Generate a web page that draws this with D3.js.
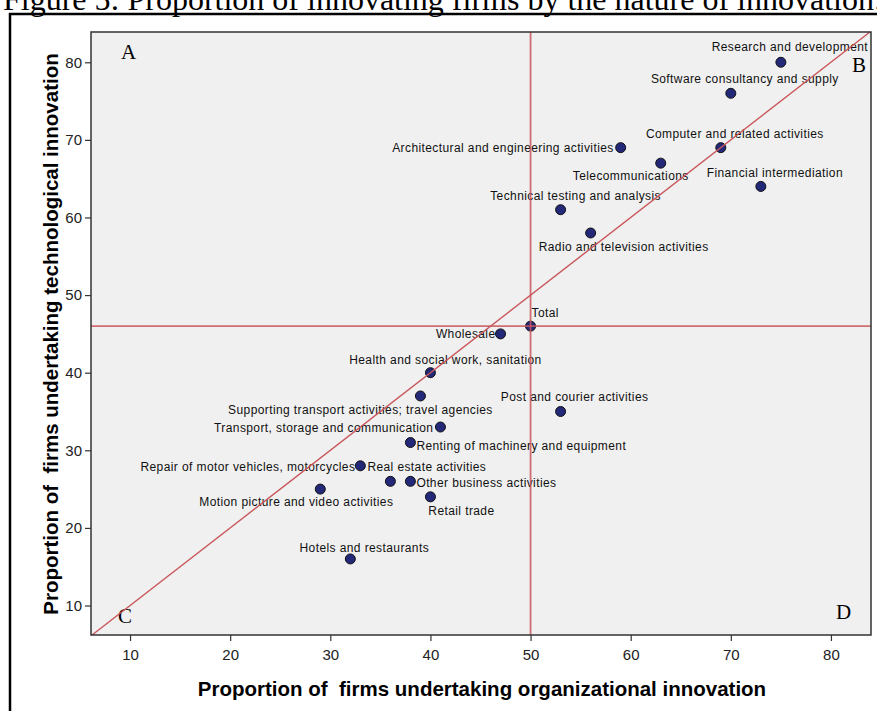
<!DOCTYPE html>
<html>
<head>
<meta charset="utf-8">
<script src="https://cdn.jsdelivr.net/npm/d3@7"></script>
<style>
  body { margin: 0; background: #fff; }
  svg { display: block; }
</style>
</head>
<body>
<svg width="877" height="711"></svg>
<script>
// sectors and their shares (%) of firms with organizational / technological innovation
let sectors = [
  "Research and development", "Software consultancy and supply", "Computer and related activities",
  "Architectural and engineering activities", "Telecommunications", "Financial intermediation",
  "Technical testing and analysis", "Radio and television activities", "Total", "Wholesale",
  "Health and social work, sanitation", "Supporting transport activities; travel agencies",
  "Post and courier activities", "Transport, storage and communication",
  "Renting of machinery and equipment", "Repair of motor vehicles, motorcycles",
  "Real estate activities", "Other business activities", "Motion picture and video activities",
  "Retail trade", "Hotels and restaurants"
];
let orgShare  = [75, 70, 69, 59, 63, 73, 53, 56, 50, 47, 40, 39, 53, 41, 38, 33, 36, 38, 29, 40, 32];
let techShare = [80, 76, 69, 69, 67, 64, 61, 58, 46, 45, 40, 37, 35, 33, 31, 28, 26, 26, 25, 24, 16];

let xTicks = [10, 20, 30, 40, 50, 60, 70, 80];
let yTicks = [10, 20, 30, 40, 50, 60, 70, 80];

// reference lines: total for organizational / technological innovation
let refX = 50;
let refY = 46;

// label placement (anchor, offset from the dot in px)
let labAnchor = ["middle", "middle", "middle", "end", "middle", "middle", "middle", "middle", "start", "end",
                 "middle", "middle", "middle", "end", "start", "end", "start", "start", "middle", "middle", "middle"];
let labDx = [9, 14, 14, -7, -30, 14, 15, 33, 1, -5, 15, -60, 14, -7, 6, -5, -23, 6, -24, 31, 14];
let labDy = [-11, -10, -10, 4, 17, -9, -10, 18, -9, 4, -9, 18, -10, 5, 7, 5, -10, 6, 17, 18, -7];

let svg = d3.select("svg");

let pxL = 91, pxR = 871, pxT = 32, pxB = 635;

let scX = d3.scaleLinear().domain([6.1, 84.0]).range([pxL, pxR]);
let scY = d3.scaleLinear().domain([6.2, 83.9]).range([pxB, pxT]);

// title, cut by the top of the page
svg.append("text")
   .attr("x", 3).attr("y", 10)
   .attr("font-family", "Liberation Serif, Times New Roman, serif")
   .attr("font-size", 32)
   .attr("fill", "#000")
   .text("Figure 5: Proportion of innovating firms by the nature of innovation:");

// outer frame
svg.append("path")
   .attr("d", "M10,720 L10,14 L890,14")
   .attr("fill", "none").attr("stroke", "#000").attr("stroke-width", 2.5);

// plot area
svg.append("rect")
   .attr("x", pxL).attr("y", pxT)
   .attr("width", pxR - pxL).attr("height", pxB - pxT)
   .attr("fill", "#f0f0f0");

svg.append("clipPath").attr("id", "plotclip")
   .append("rect")
   .attr("x", pxL).attr("y", pxT)
   .attr("width", pxR - pxL).attr("height", pxB - pxT);

// axes
let xAxis = d3.axisBottom(scX).tickValues(xTicks).tickSize(6).tickSizeOuter(0);
let yAxis = d3.axisLeft(scY).tickValues(yTicks).tickSize(6).tickSizeOuter(0);

let gx = svg.append("g").attr("transform", `translate(0,${pxB})`).call(xAxis);
let gy = svg.append("g").attr("transform", `translate(${pxL},0)`).call(yAxis);
gx.select(".domain").remove();
gy.select(".domain").remove();
[gx, gy].forEach(g => {
  g.selectAll(".tick line").attr("stroke", "#333").attr("stroke-width", 1.2);
  g.selectAll(".tick text")
   .attr("font-family", "Liberation Sans, Arial, sans-serif")
   .attr("font-size", 15).attr("fill", "#222");
});
gx.selectAll(".tick text").attr("dy", "1em").attr("y", 10);
gy.selectAll(".tick text").attr("x", -9);

// axis titles
svg.append("text")
   .attr("x", 482).attr("y", 696)
   .attr("text-anchor", "middle")
   .attr("font-family", "Liberation Sans, Arial, sans-serif")
   .attr("font-size", 20.5).attr("font-weight", "bold")
   .attr("xml:space", "preserve")
   .text("Proportion of  firms undertaking organizational innovation");

svg.append("text")
   .attr("transform", "translate(58,334) rotate(-90)")
   .attr("text-anchor", "middle")
   .attr("font-family", "Liberation Sans, Arial, sans-serif")
   .attr("font-size", 20.5).attr("font-weight", "bold")
   .attr("xml:space", "preserve")
   .text("Proportion of  firms undertaking technological innovation");

// quadrant letters
let corners = [
  {t: "A", x: scX(6.1) + 30, y: scY(83.9) + 27},
  {t: "B", x: scX(84.0) - 19, y: scY(83.9) + 40},
  {t: "C", x: scX(6.1) + 27, y: scY(6.2) - 12},
  {t: "D", x: scX(84.0) - 35, y: scY(6.2) - 16}
];
svg.append("g").selectAll("text")
   .data(corners).enter()
   .append("text")
   .attr("x", d => d.x).attr("y", d => d.y)
   .attr("font-family", "Liberation Serif, Times New Roman, serif")
   .attr("font-size", 21).attr("fill", "#000")
   .text(d => d.t);

let pts = sectors.map((s, i) => ({name: s, x: orgShare[i], y: techShare[i], i: i}));

// dots
svg.append("g").selectAll("circle")
   .data(pts).enter()
   .append("circle")
   .attr("cx", d => scX(d.x)).attr("cy", d => scY(d.y))
   .attr("r", 5)
   .attr("fill", "#232878").attr("stroke", "#111").attr("stroke-width", 1);

// labels
svg.append("g").attr("clip-path", "url(#plotclip)")
   .selectAll("text")
   .data(pts).enter()
   .append("text")
   .attr("x", d => scX(d.x) + labDx[d.i])
   .attr("y", d => scY(d.y) + labDy[d.i])
   .attr("text-anchor", d => labAnchor[d.i])
   .attr("font-family", "Liberation Sans, Arial, sans-serif")
   .attr("font-size", 12).attr("letter-spacing", 0.4)
   .attr("fill", "#111")
   .text(d => d.name);

// reference lines and the diagonal, drawn on top
let lines = svg.append("g").attr("clip-path", "url(#plotclip)")
               .attr("stroke", "#c9565a").attr("fill", "none");
lines.append("line")
     .attr("x1", scX(refX)).attr("x2", scX(refX))
     .attr("y1", pxT).attr("y2", pxB)
     .attr("stroke-width", 1.8).attr("stroke-opacity", 0.85);
lines.append("line")
     .attr("x1", pxL).attr("x2", pxR)
     .attr("y1", scY(refY)).attr("y2", scY(refY))
     .attr("stroke-width", 1.8).attr("stroke-opacity", 0.85);
lines.append("line")
     .attr("x1", scX(6.1)).attr("y1", scY(6.1))
     .attr("x2", scX(84.0)).attr("y2", scY(84.0))
     .attr("stroke-width", 1.4);

// plot border
svg.append("rect")
   .attr("x", pxL).attr("y", pxT)
   .attr("width", pxR - pxL).attr("height", pxB - pxT)
   .attr("fill", "none").attr("stroke", "#333").attr("stroke-width", 1.5);
</script>
</body>
</html>
